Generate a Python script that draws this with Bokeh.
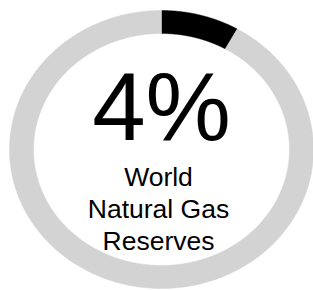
import numpy as np
from bokeh.plotting import figure
from bokeh.models import Range1d, ColumnDataSource
from bokeh.core.properties import value
from bokeh.embed import file_html
from bokeh.resources import INLINE

# ---- data ----
segment_names = ["Share", "Rest"]
segment_values = [8.3, 91.7]          # portion of the ring
segment_colors = ["#000000", "#d3d3d3"]
big_label = ["4%"]
sub_labels = ["World", "Natural Gas", "Reserves"]

# ---- geometry (layout constants) ----
RX_OUT, RY_OUT = 152, 139
RX_IN, RY_IN = 128, 116

p = figure(width=313, height=290,
           x_range=Range1d(-161, 152), y_range=Range1d(-141, 149),
           output_backend="svg", toolbar_location=None, min_border=0)
p.axis.visible = False
p.grid.visible = False
p.outline_line_color = None
p.background_fill_color = "white"
p.border_fill_color = "white"

total = float(sum(segment_values))
xs, ys = [], []
start = 0.0
for v in segment_values:
    a0 = start / total * 2 * np.pi
    a1 = (start + v) / total * 2 * np.pi
    th = np.linspace(a0, a1, 240)
    xo, yo = RX_OUT * np.sin(th), RY_OUT * np.cos(th)
    xi, yi = RX_IN * np.sin(th[::-1]), RY_IN * np.cos(th[::-1])
    xs.append(list(np.concatenate([xo, xi])))
    ys.append(list(np.concatenate([yo, yi])))
    start += v

src = ColumnDataSource(dict(xs=xs, ys=ys, color=segment_colors, name=segment_names))
p.patches("xs", "ys", source=src, fill_color="color", line_color="color", line_width=0.5)

p.text(x=[0], y=[43.5], text=big_label, text_font=value("Liberation Sans"),
       text_font_size="96px", text_align="center", text_baseline="alphabetic",
       text_color="black")

sub_y = [-27.8 - 31.7 * i for i in range(len(sub_labels))]
p.text(x=[-3] * len(sub_labels), y=sub_y, text=sub_labels,
       text_font=value("Liberation Sans"), text_font_size="26.5px",
       text_align="center", text_baseline="alphabetic", text_color="black")

open("out.html", "w").write(file_html(p, INLINE))
